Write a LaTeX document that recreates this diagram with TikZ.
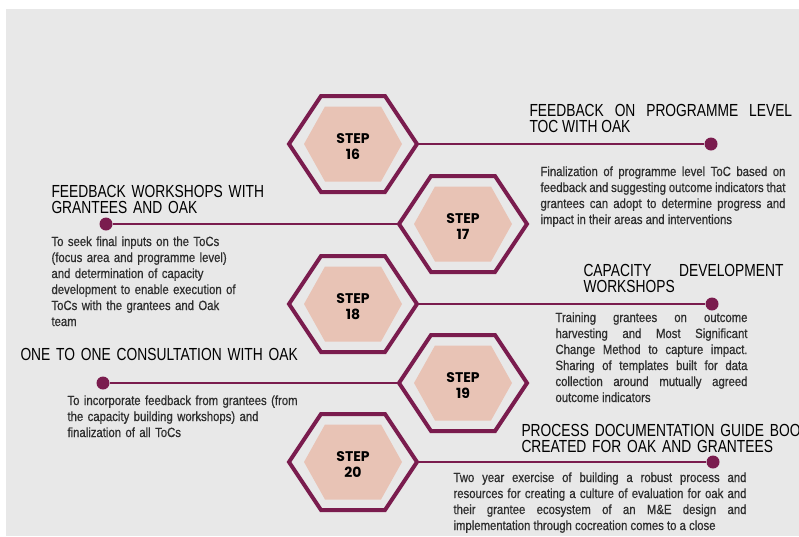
\documentclass[tikz,border=0pt]{standalone}
\usepackage{fontspec}
\setmainfont{Liberation Sans}
\newfontfamily\headfont[FakeStretch=0.79]{Liberation Sans}
\newfontfamily\bodyfont[FakeStretch=0.85,FakeBold=0.6]{Liberation Sans}
\newfontfamily\stepfont{Poppins}

\definecolor{oakmaroon}{HTML}{7A1C4E}
\definecolor{oakpink}{HTML}{E8C3B5}
\definecolor{oakgrey}{HTML}{E8E8E8}
\definecolor{oaktext}{HTML}{2E2E2E}

\tikzset{every picture/.style={line width=0.75pt}}
\tikzset{
  hexline/.style={draw=oakmaroon, line width=3pt, line join=miter},
  hexfill/.style={fill=oakpink},
  conn/.style={draw=oakmaroon, line width=2.2pt},
  enddot/.style={circle, fill=oakmaroon, minimum size=9.75pt, inner sep=0pt},
  steplabel/.style={font=\stepfont\bfseries\fontsize{10.5}{11.5}\selectfont, align=center, text=black, inner sep=0pt},
  heading/.style={font=\headfont\fontsize{13.1}{12.2}\selectfont, text=black, inner sep=0pt, anchor=base west},
  blurb/.style={font=\bodyfont\fontsize{10}{12}\selectfont, text=oaktext, inner sep=0pt, anchor=base west},
}

\begin{document}
\begin{tikzpicture}[x=0.75pt,y=0.75pt,yscale=-1,xscale=1]
	\clip (0,0) rectangle (799,536);
	\useasboundingbox (0,0) rectangle (799,536);

	%Shape: Rectangle (background)
	\fill[oakgrey] (6,9) rectangle (799,536);

	%Shape: Polygon [step 16]
	\fill[hexfill] (304,144) -- (325,106.5) -- (381,106.5) -- (402,144) -- (381,181.5) -- (325,181.5) -- cycle;
	\draw[hexline] (289,144) -- (321,96) -- (385,96) -- (417,144) coordinate (h16e) -- (385,192) -- (321,192) -- cycle;
	%Shape: Polygon [step 17]
	\fill[hexfill] (414,224) -- (435,186.5) -- (491,186.5) -- (512,224) -- (491,261.5) -- (435,261.5) -- cycle;
	\draw[hexline] (399,224) coordinate (h17w) -- (431,176) -- (495,176) -- (527,224) -- (495,272) -- (431,272) -- cycle;
	%Shape: Polygon [step 18]
	\fill[hexfill] (304,304) -- (325,266.5) -- (381,266.5) -- (402,304) -- (381,341.5) -- (325,341.5) -- cycle;
	\draw[hexline] (289,304) -- (321,256) -- (385,256) -- (417,304) coordinate (h18e) -- (385,352) -- (321,352) -- cycle;
	%Shape: Polygon [step 19]
	\fill[hexfill] (414,383) -- (435,345.5) -- (491,345.5) -- (512,383) -- (491,420.5) -- (435,420.5) -- cycle;
	\draw[hexline] (399,383) coordinate (h19w) -- (431,335) -- (495,335) -- (527,383) -- (495,431) -- (431,431) -- cycle;
	%Shape: Polygon [step 20]
	\fill[hexfill] (304,462) -- (325,424.5) -- (381,424.5) -- (402,462) -- (381,499.5) -- (325,499.5) -- cycle;
	\draw[hexline] (289,462) -- (321,414) -- (385,414) -- (417,462) coordinate (h20e) -- (385,510) -- (321,510) -- cycle;

	% Step labels
	\node[steplabel] (s16) at (353,146.5) {STEP\\16};
	\node[steplabel] (s17) at (463,226.5) {STEP\\17};
	\node[steplabel] (s18) at (353,306.5) {STEP\\18};
	\node[steplabel] (s19) at (463,385.5) {STEP\\19};
	\node[steplabel] (s20) at (353,464.5) {STEP\\20};

	% End dots
	\node[enddot] (d16) at (711,144) {};
	\node[enddot] (d17) at (106,224) {};
	\node[enddot] (d18) at (712,304) {};
	\node[enddot] (d19) at (103,383) {};
	\node[enddot] (d20) at (713,462) {};

	%Straight Lines
	\draw[conn] (h16e) -- (d16);
	\draw[conn] (h17w) -- (d17);
	\draw[conn] (h18e) -- (d18);
	\draw[conn] (h19w) -- (d19);
	\draw[conn] (h20e) -- (d20);

	% Text Node
	\node[heading, text width=197pt, align=justify] (t16) at (529,116) {FEEDBACK ON PROGRAMME LEVEL\linebreak TOC WITH OAK};
	% Text Node
	\node[blurb, text width=183.75pt, align=justify] (b16) at (540,176) {Finalization of programme level ToC based on\linebreak feedback and suggesting outcome indicators that\linebreak grantees can adopt to determine progress and\linebreak impact in their areas and interventions};

	% Text Node
	\node[heading, text width=250pt, align=left] (t17) at (51,197) {FEEDBACK WORKSHOPS WITH\\GRANTEES AND OAK};
	% Text Node
	\node[blurb, text width=200pt, align=left] (b17) at (51,246) {To seek final inputs on the ToCs\\(focus area and programme level)\\and determination of capacity\\development to enable execution of\\ToCs with the grantees and Oak\\team};

	% Text Node
	\node[heading, text width=150pt, align=justify] (t18) at (583,276) {CAPACITY DEVELOPMENT\linebreak WORKSHOPS};
	% Text Node
	\node[blurb, text width=144pt, align=justify] (b18) at (555,322) {Training grantees on outcome\linebreak harvesting and Most Significant\linebreak Change Method to capture impact.\linebreak Sharing of templates built for data\linebreak collection around mutually agreed\linebreak outcome indicators};

	% Text Node
	\node[heading, text width=260pt, align=left] (t19) at (20,360) {ONE TO ONE CONSULTATION WITH OAK};
	% Text Node
	\node[blurb, text width=220pt, align=left] (b19) at (67,405) {To incorporate feedback from grantees (from\\the capacity building workshops) and\\finalization of all ToCs};

	% Text Node
	\node[heading, text width=300pt, align=left] (t20) at (521,436) {PROCESS DOCUMENTATION GUIDE BOOK\\CREATED FOR OAK AND GRANTEES};
	% Text Node
	\node[blurb, text width=219.75pt, align=justify] (b20) at (453,482) {Two year exercise of building a robust process and\linebreak resources for creating a culture of evaluation for oak and\linebreak their grantee ecosystem of an M\&E design and\linebreak implementation through cocreation comes to a close};

\end{tikzpicture}
\end{document}
